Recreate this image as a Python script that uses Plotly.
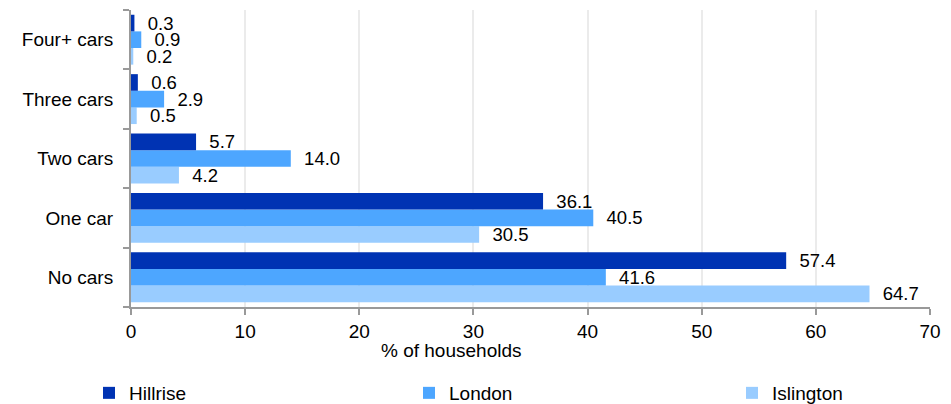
import plotly.graph_objects as go

categories = ["No cars", "One car", "Two cars", "Three cars", "Four+ cars"]
hillrise = [57.4, 36.1, 5.7, 0.6, 0.3]
london = [41.6, 40.5, 14.0, 2.9, 0.9]
islington = [64.7, 30.5, 4.2, 0.5, 0.2]
x_ticks = [0, 10, 20, 30, 40, 50, 60, 70]
x_title = "% of households"

font = "Liberation Sans, Arial, sans-serif"
FS = 19
series = [
    ("Islington", islington, "#99ccff", "legend3"),
    ("London", london, "#4da6ff", "legend2"),
    ("Hillrise", hillrise, "#0033b3", "legend"),
]

fig = go.Figure()
for name, vals, col, lg in series:
    fig.add_trace(go.Bar(
        y=categories, x=vals, name=name, orientation="h",
        marker=dict(color=col, line=dict(width=0)),
        text=["\u00a0\u00a0" + f"{v:.1f}" for v in vals], textposition="outside",
        constraintext="none",
        textfont=dict(size=18.5, color="#000000", family=font),
        cliponaxis=False, legend=lg, showlegend=True,
    ))

leg_common = dict(xref="container", yref="container", y=1 - 393 / 404,
                  xanchor="left", yanchor="middle", orientation="h",
                  font=dict(size=FS, family=font), itemwidth=30,
                  bgcolor="rgba(0,0,0,0)", borderwidth=0)

fig.update_layout(
    width=951, height=404,
    margin=dict(l=131, r=21, t=10, b=97),
    barmode="group", bargap=0.16, bargroupgap=0,
    plot_bgcolor="white", paper_bgcolor="white",
    showlegend=True,
    font=dict(family=font, size=FS, color="#000000"),
    xaxis=dict(range=[0, 70], tickvals=x_ticks, showgrid=True, gridcolor="#ebebeb",
               gridwidth=1.5, showline=True, linecolor="#999999", linewidth=2,
               ticks="outside", ticklen=6, tickcolor="#999999", tickwidth=2,
               zeroline=False, automargin=False),
    yaxis=dict(showline=True, linecolor="#999999", linewidth=2, ticks="outside",
               tickson="boundaries", ticklen=6, tickcolor="#999999", tickwidth=2,
               showgrid=False, ticklabelstandoff=12, automargin=False),
    legend=dict(x=89 / 951, **leg_common),
    legend2=dict(x=409 / 951, **leg_common),
    legend3=dict(x=732 / 951, **leg_common),
    annotations=[dict(text=x_title, xref="paper", yref="paper",
                      x=(451 - 131) / 799, y=-(350 - 307) / 297,
                      xanchor="center", yanchor="middle", showarrow=False,
                      font=dict(size=FS, family=font, color="#000000"))],
)

fig.write_html("out.html", config={"displayModeBar": False},
               post_script="document.body.style.margin='0';document.body.style.overflow='hidden';")
